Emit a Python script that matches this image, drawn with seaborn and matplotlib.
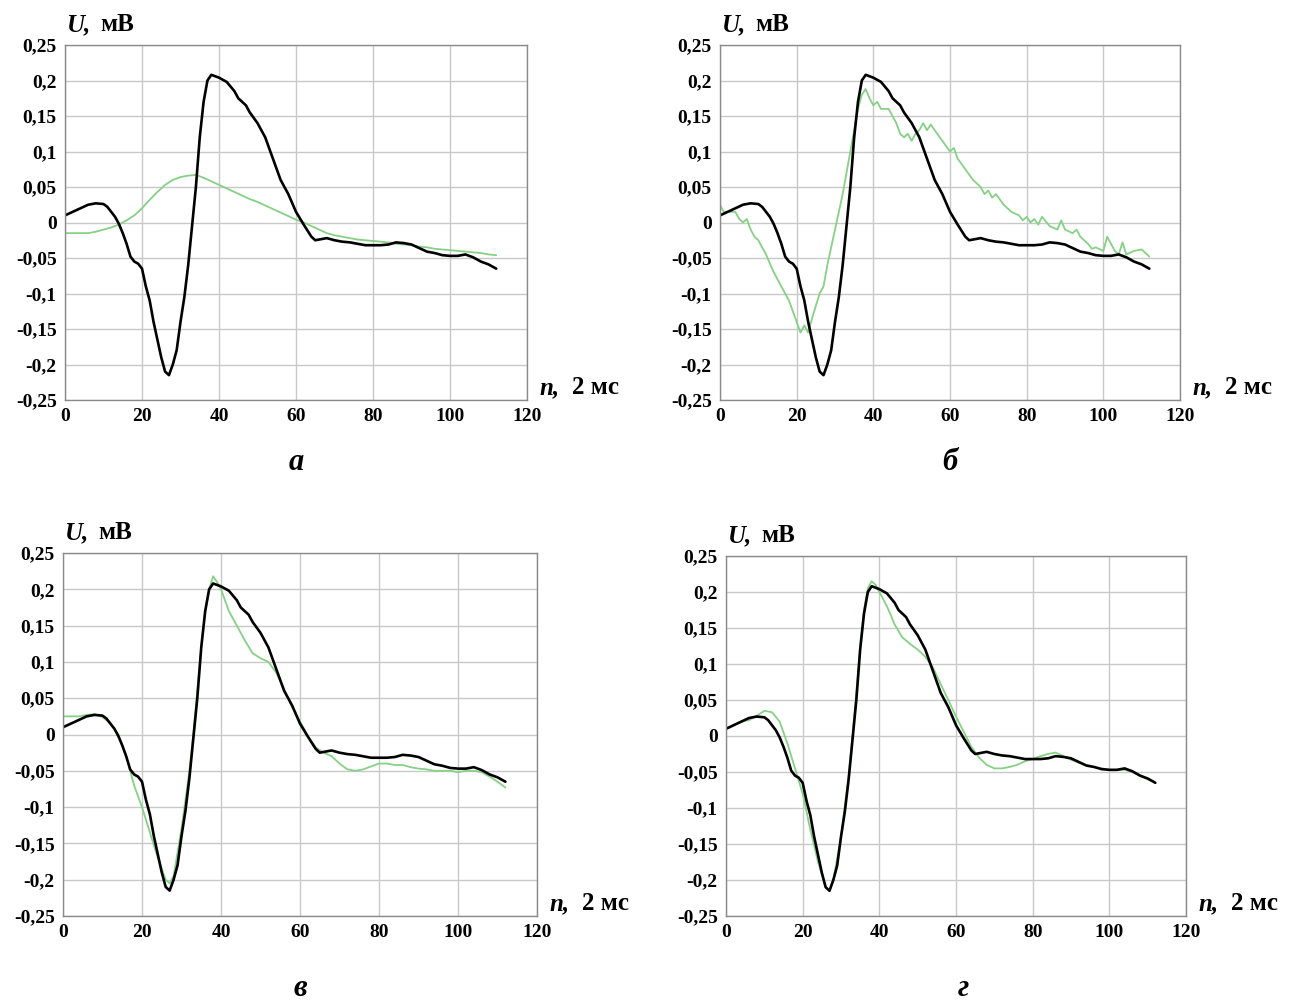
import matplotlib
matplotlib.use("Agg")
import matplotlib.pyplot as plt
import seaborn as sns
import pandas as pd

# ---------------- data ----------------
black_n = [0, 2, 4, 6, 8, 10, 11, 12, 13, 14, 15, 16, 17, 18, 19, 20, 21, 22, 23, 24,
           25, 26, 27, 28, 29, 30, 31, 32, 33, 34, 35, 36, 37, 38, 39, 40, 42, 44, 45,
           46, 47, 48, 50, 52, 53, 54, 56, 58, 60, 62, 64, 65, 66, 68, 70, 72, 74, 76,
           78, 80, 82, 84, 86, 88, 90, 92, 94, 96, 98, 100, 102, 104, 106, 108, 110, 112]
black_u = [0.010, 0.015, 0.020, 0.025, 0.027, 0.026, 0.022, 0.015, 0.008, -0.002, -0.015,
           -0.030, -0.048, -0.055, -0.058, -0.065, -0.090, -0.110, -0.140, -0.165, -0.190,
           -0.210, -0.215, -0.200, -0.180, -0.140, -0.105, -0.060, -0.005, 0.050, 0.120,
           0.170, 0.200, 0.208, 0.206, 0.204, 0.198, 0.185, 0.175, 0.170, 0.165, 0.155,
           0.140, 0.120, 0.105, 0.090, 0.060, 0.040, 0.015, -0.003, -0.020, -0.025, -0.024,
           -0.022, -0.025, -0.027, -0.028, -0.030, -0.032, -0.032, -0.032, -0.031, -0.028,
           -0.029, -0.031, -0.036, -0.041, -0.043, -0.046, -0.047, -0.047, -0.045, -0.049,
           -0.055, -0.059, -0.065]

green_a_n = [0, 4, 6, 8, 10, 12, 14, 16, 18, 20, 22, 24, 26, 28, 30, 32, 34, 36, 38, 40,
             42, 44, 46, 48, 50, 52, 54, 56, 58, 60, 62, 64, 66, 68, 70, 72, 74, 76, 78,
             80, 82, 84, 86, 88, 90, 92, 94, 96, 98, 100, 102, 104, 106, 108, 110, 112]
green_a_u = [-0.015, -0.015, -0.015, -0.013, -0.010, -0.007, -0.003, 0.003, 0.010, 0.020,
             0.032, 0.043, 0.053, 0.060, 0.064, 0.066, 0.067, 0.063, 0.058, 0.053, 0.048,
             0.043, 0.038, 0.033, 0.029, 0.024, 0.019, 0.014, 0.009, 0.004, 0.000, -0.005,
             -0.010, -0.015, -0.018, -0.020, -0.022, -0.024, -0.025, -0.026, -0.027, -0.028,
             -0.030, -0.031, -0.032, -0.034, -0.035, -0.037, -0.038, -0.039, -0.040, -0.041,
             -0.042, -0.043, -0.045, -0.046]

green_b_n = [0, 1, 2, 4, 5, 6, 7, 8, 9, 10, 12, 14, 16, 18, 19, 20, 21, 22, 23, 24, 26, 27,
             28, 30, 32, 34, 36, 37, 38, 39, 40, 41, 42, 44, 46, 47, 48, 49, 50, 51, 52, 53,
             54, 55, 56, 58, 60, 61, 62, 64, 66, 68, 69, 70, 71, 72, 74, 76, 78, 79, 80, 81,
             82, 83, 84, 86, 88, 89, 90, 92, 93, 94, 96, 97, 98, 100, 101, 102, 103, 104,
             105, 106, 108, 110, 112]
green_b_u = [0.025, 0.015, 0.015, 0.015, 0.005, 0.000, 0.005, -0.010, -0.020, -0.025,
             -0.045, -0.070, -0.090, -0.110, -0.125, -0.140, -0.155, -0.145, -0.155, -0.135,
             -0.100, -0.090, -0.060, -0.010, 0.040, 0.100, 0.160, 0.180, 0.188, 0.175, 0.165,
             0.170, 0.160, 0.160, 0.140, 0.125, 0.120, 0.125, 0.115, 0.125, 0.130, 0.140,
             0.130, 0.138, 0.130, 0.115, 0.100, 0.105, 0.090, 0.075, 0.060, 0.050, 0.040,
             0.045, 0.035, 0.040, 0.025, 0.015, 0.010, 0.003, 0.008, 0.000, 0.005, -0.003,
             0.008, -0.005, -0.010, 0.003, -0.010, -0.015, -0.010, -0.020, -0.030, -0.037,
             -0.035, -0.040, -0.020, -0.030, -0.040, -0.045, -0.028, -0.045, -0.040, -0.038,
             -0.048]

green_c_n = [0, 2, 4, 6, 8, 10, 12, 14, 16, 18, 20, 22, 24, 26, 27, 28, 30, 32, 33, 34, 35,
             36, 37, 38, 39, 40, 42, 44, 46, 48, 50, 52, 54, 56, 58, 60, 62, 64, 66, 68, 70,
             72, 74, 76, 78, 80, 82, 84, 86, 88, 90, 92, 94, 96, 98, 100, 102, 104, 106, 108,
             110, 112]
green_c_u = [0.025, 0.025, 0.025, 0.027, 0.028, 0.024, 0.015, 0.000, -0.030, -0.070,
             -0.100, -0.135, -0.170, -0.200, -0.205, -0.195, -0.130, -0.050, 0.000, 0.060,
             0.120, 0.170, 0.200, 0.218, 0.210, 0.200, 0.170, 0.150, 0.130, 0.112, 0.105,
             0.100, 0.085, 0.062, 0.038, 0.018, -0.002, -0.018, -0.025, -0.030, -0.040,
             -0.048, -0.050, -0.048, -0.044, -0.040, -0.040, -0.042, -0.042, -0.045, -0.047,
             -0.048, -0.050, -0.050, -0.050, -0.052, -0.050, -0.050, -0.052, -0.058, -0.065,
             -0.073]

green_d_n = [0, 2, 4, 6, 8, 10, 12, 14, 16, 18, 20, 22, 24, 26, 27, 28, 30, 32, 33, 34, 35,
             36, 37, 38, 39, 40, 42, 44, 46, 48, 50, 52, 54, 56, 58, 60, 62, 64, 66, 68, 70,
             72, 74, 76, 78, 80, 82, 84, 86, 88, 90, 92, 94, 96, 98, 100, 102, 104, 106, 108,
             110, 112]
green_d_u = [0.010, 0.015, 0.020, 0.022, 0.028, 0.035, 0.033, 0.020, -0.010, -0.045,
             -0.080, -0.130, -0.175, -0.210, -0.215, -0.200, -0.140, -0.055, 0.000, 0.060,
             0.125, 0.175, 0.205, 0.215, 0.210, 0.200, 0.180, 0.155, 0.137, 0.128, 0.120,
             0.110, 0.095, 0.072, 0.050, 0.027, 0.006, -0.015, -0.030, -0.040, -0.045,
             -0.045, -0.043, -0.040, -0.035, -0.032, -0.028, -0.025, -0.023, -0.028, -0.033,
             -0.037, -0.040, -0.043, -0.045, -0.047, -0.047, -0.047, -0.050, -0.055, -0.060,
             -0.065]

panel_labels = ["а", "б", "в", "г"]
x_ticks = [0, 20, 40, 60, 80, 100, 120]
y_ticks = [0.25, 0.2, 0.15, 0.1, 0.05, 0, -0.05, -0.1, -0.15, -0.2, -0.25]
y_tick_labels = ["0,25", "0,2", "0,15", "0,1", "0,05", "0", "-0,05", "-0,1", "-0,15",
                 "-0,2", "-0,25"]

# ---------------- style ----------------
sns.set_style("white")
plt.rcParams["font.family"] = ["Liberation Serif", "DejaVu Serif"]
plt.rcParams["text.color"] = "black"
plt.rcParams["xtick.color"] = "black"
plt.rcParams["ytick.color"] = "black"
plt.rcParams["xtick.labelcolor"] = "black"
plt.rcParams["ytick.labelcolor"] = "black"

W, H = 1293, 1000
fig = plt.figure(figsize=(W / 100, H / 100), dpi=100)

# axes rectangles in figure fractions
rects = [
    [65 / W, 0.600, 462 / W, 0.355],
    [720 / W, 0.600, 460 / W, 0.355],
    [63 / W, 0.084, 474 / W, 0.363],
    [726 / W, 0.084, 460 / W, 0.360],
]
# sub-figure letter centres (pixels)
letter_pos = [(296, 462), (950, 462), (300, 988), (963, 988)]

greens = [(green_a_n, green_a_u), (green_b_n, green_b_u),
          (green_c_n, green_c_u), (green_d_n, green_d_u)]

black_df = pd.DataFrame({"n": black_n, "U": black_u})
GREEN = "#86d186"

for i, (rect, (gn, gu)) in enumerate(zip(rects, greens)):
    ax = fig.add_axes(rect)
    gdf = pd.DataFrame({"n": gn, "U": gu})
    sns.lineplot(data=gdf, x="n", y="U", ax=ax, color=GREEN, linewidth=1.3,
                 estimator=None, sort=False)
    sns.lineplot(data=black_df, x="n", y="U", ax=ax, color="black", linewidth=1.9,
                 estimator=None, sort=False)
    ax.set_xlim(0, 120)
    ax.set_ylim(-0.25, 0.25)
    ax.set_xticks(x_ticks)
    ax.set_xticklabels([str(t) for t in x_ticks], fontsize=14, fontweight="bold",
                       color="black")
    ax.set_yticks(y_ticks)
    ax.set_yticklabels(y_tick_labels, fontsize=14, fontweight="bold", color="black")
    ax.tick_params(length=3, direction="in", color="#8a8a8a", pad=6)
    ax.grid(True, color="#c8c8c8", linewidth=1.0)
    for s in ax.spines.values():
        s.set_color("#8a8a8a")
        s.set_linewidth(1.0)
    ax.set_xlabel("")
    ax.set_ylabel("")

    # axis captions (pixel offsets from the axes corners)
    x0 = rect[0] * W
    x1 = (rect[0] + rect[2]) * W
    ytop = (1 - rect[1] - rect[3]) * H
    ybot = (1 - rect[1]) * H
    fig.text((x0 + 2) / W, 1 - (ytop - 14) / H, "U,", fontsize=18, color="black",
             fontweight="bold", fontstyle="italic", ha="left", va="baseline")
    fig.text((x0 + 35) / W, 1 - (ytop - 14) / H, "мВ", fontsize=18, color="black",
             fontweight="bold", ha="left", va="baseline")
    fig.text((x1 + 12) / W, 1 - (ybot - 6) / H, "n,", fontsize=18, color="black",
             fontweight="bold", fontstyle="italic", ha="left", va="baseline")
    fig.text((x1 + 45) / W, 1 - (ybot - 6) / H, "2 мс", fontsize=18, color="black",
             fontweight="bold", ha="left", va="baseline")

    # sub-figure letter
    lx, ly = letter_pos[i]
    fig.text(lx / W, 1 - ly / H, panel_labels[i], fontsize=22, color="black",
             fontweight="bold", fontstyle="italic", ha="center", va="center")

fig.savefig("out.png", dpi=100, facecolor="white")
